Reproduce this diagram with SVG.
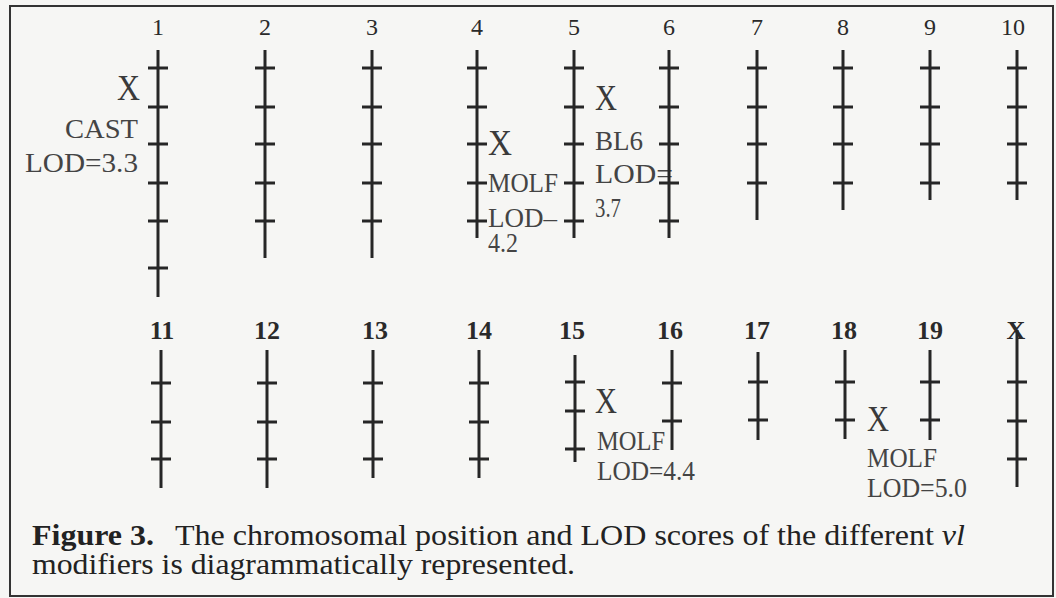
<svg xmlns="http://www.w3.org/2000/svg" width="1056" height="598" viewBox="0 0 1056 598">
<style>
.chr{stroke:#262626;stroke-width:3;fill:none;stroke-linecap:butt}
.num{font-family:"Liberation Serif","Times New Roman",serif;font-size:24px;fill:#2a2a2a;text-anchor:middle}
.numb{font-family:"Liberation Serif","Times New Roman",serif;font-size:26px;font-weight:bold;fill:#2a2a2a;text-anchor:middle}
.x{font-family:"Liberation Serif","Times New Roman",serif;font-size:36px;fill:#3a3a3a}
.lbl{font-family:"Liberation Serif","Times New Roman",serif;font-size:27px;fill:#444}
.cap{font-family:"Liberation Serif","Times New Roman",serif;font-size:30px;fill:#222}
</style>
<rect x="0" y="0" width="1056" height="598" fill="#f6f6f4"/>
<rect x="10" y="6" width="1043" height="590" fill="none" stroke="#333" stroke-width="2"/>

<g id="chr1"><text class="num" x="158" y="35">1</text>
<path class="chr" d="M158 50V297M148 68h20M148 107h20M148 144h20M148 183h20M148 221h20M148 268h20"/>
<text class="x" x="117" y="100" textLength="23" lengthAdjust="spacingAndGlyphs" font-size="37">X</text>
<text class="lbl" x="65" y="138" textLength="73" lengthAdjust="spacingAndGlyphs" font-size="28">CAST</text>
<text class="lbl" x="25" y="172" textLength="113" lengthAdjust="spacingAndGlyphs" font-size="28">LOD=3.3</text></g>

<g id="chr2"><text class="num" x="265" y="35">2</text>
<path class="chr" d="M265 50V258M255 68h20M255 107h20M255 144h20M255 183h20M255 221h20"/></g>

<g id="chr3"><text class="num" x="372" y="35">3</text>
<path class="chr" d="M372 50V258M362 68h20M362 107h20M362 144h20M362 183h20M362 221h20" stroke="#3a2424"/></g>

<g id="chr4"><text class="num" x="477" y="35">4</text>
<path class="chr" d="M477 50V238M467 68h20M467 107h20M467 144h20M467 183h20M467 221h20"/>
<text class="x" x="488" y="155" textLength="24" lengthAdjust="spacingAndGlyphs">X</text>
<text class="lbl" x="488" y="192" textLength="70" lengthAdjust="spacingAndGlyphs">MOLF</text>
<text class="lbl" x="488" y="227" textLength="69" lengthAdjust="spacingAndGlyphs">LOD–</text>
<text class="lbl" x="488" y="252" textLength="30" lengthAdjust="spacingAndGlyphs">4.2</text></g>

<g id="chr5"><text class="num" x="574" y="35">5</text>
<path class="chr" d="M574 50V238M564 68h20M564 107h20M564 144h20M564 183h20M564 221h20"/>
<text class="x" x="595" y="110" textLength="22" lengthAdjust="spacingAndGlyphs">X</text>
<text class="lbl" x="595" y="150" textLength="48" lengthAdjust="spacingAndGlyphs">BL6</text>
<text class="lbl" x="595" y="183" textLength="78" lengthAdjust="spacingAndGlyphs">LOD=</text>
<text class="lbl" x="595" y="217" textLength="26" lengthAdjust="spacingAndGlyphs">3.7</text></g>

<g id="chr6"><text class="num" x="669" y="35">6</text>
<path class="chr" d="M669 50V238M659 68h20M659 107h20M659 144h20M659 183h20M659 221h20"/></g>

<g id="chr7"><text class="num" x="757" y="35">7</text>
<path class="chr" d="M757 50V220M747 68h20M747 107h20M747 144h20M747 183h20"/></g>

<g id="chr8"><text class="num" x="843" y="35">8</text>
<path class="chr" d="M843 50V210M833 68h20M833 107h20M833 144h20M833 183h20"/></g>

<g id="chr9"><text class="num" x="930" y="35">9</text>
<path class="chr" d="M930 50V200M920 68h20M920 107h20M920 144h20M920 183h20"/></g>

<g id="chr10"><text class="num" x="1013" y="35">10</text>
<path class="chr" d="M1017 50V200M1007 68h20M1007 107h20M1007 144h20M1007 183h20"/></g>

<g id="chr11"><text class="numb" x="162" y="339">11</text>
<path class="chr" d="M161 350V488M151 383h20M151 422h20M151 459h20"/></g>

<g id="chr12"><text class="numb" x="267" y="339">12</text>
<path class="chr" d="M267 350V488M257 383h20M257 422h20M257 459h20"/></g>

<g id="chr13"><text class="numb" x="375" y="339">13</text>
<path class="chr" d="M373 350V478M363 383h20M363 422h20M363 459h20"/></g>

<g id="chr14"><text class="numb" x="479" y="339">14</text>
<path class="chr" d="M479 350V478M469 383h20M469 422h20M469 459h20"/></g>

<g id="chr15"><text class="numb" x="572" y="339">15</text>
<path class="chr" d="M575 355V462M565 382h20M565 411h20M565 449h20"/>
<text class="x" x="595" y="413" textLength="22" lengthAdjust="spacingAndGlyphs">X</text>
<text class="lbl" x="597" y="450" textLength="68" lengthAdjust="spacingAndGlyphs">MOLF</text>
<text class="lbl" x="597" y="480" textLength="98" lengthAdjust="spacingAndGlyphs">LOD=4.4</text></g>

<g id="chr16"><text class="numb" x="670" y="339">16</text>
<path class="chr" d="M672 350V450M662 383h20M662 421h20"/></g>

<g id="chr17"><text class="numb" x="757" y="339">17</text>
<path class="chr" d="M758 352V440M748 382h20M748 420h20"/></g>

<g id="chr18"><text class="numb" x="844" y="339">18</text>
<path class="chr" d="M845 350V439M835 382h20M835 420h20"/>
<text class="x" x="867" y="431" textLength="22" lengthAdjust="spacingAndGlyphs">X</text>
<text class="lbl" x="867" y="467" textLength="70" lengthAdjust="spacingAndGlyphs">MOLF</text>
<text class="lbl" x="867" y="497" textLength="100" lengthAdjust="spacingAndGlyphs">LOD=5.0</text></g>

<g id="chr19"><text class="numb" x="930" y="339">19</text>
<path class="chr" d="M930 350V440M920 382h20M920 420h20"/></g>

<g id="chrX"><text class="numb" x="1016" y="339">X</text>
<path class="chr" d="M1017 330V487M1007 382h20M1007 421h20M1007 459h20"/></g>

<g id="caption">
<text class="cap" x="32" y="545" font-weight="bold" textLength="122" lengthAdjust="spacingAndGlyphs">Figure 3.</text>
<text class="cap" x="175" y="545" textLength="790" lengthAdjust="spacingAndGlyphs">The chromosomal position and LOD scores of the different <tspan font-style="italic">vl</tspan></text>
<text class="cap" x="32" y="574" textLength="543" lengthAdjust="spacingAndGlyphs">modifiers is diagrammatically represented.</text>
</g>
</svg>
